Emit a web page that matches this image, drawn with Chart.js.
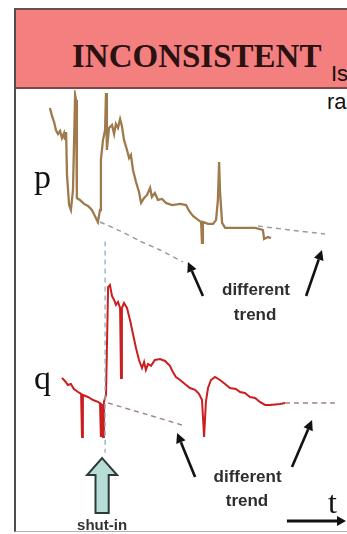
<!DOCTYPE html>
<html>
<head>
<meta charset="utf-8">
<script src="https://cdn.jsdelivr.net/npm/chart.js@4.4.0/dist/chart.umd.min.js"></script>
<style>
  html, body { margin: 0; padding: 0; background: #fff; }
  body { width: 347px; height: 534px; position: relative; overflow: hidden; }
  #frame { position: absolute; left: 14px; top: 8px; width: 340px; height: 523px; border-left: 2px solid #4d4d4d; border-bottom: 1px solid #b0b0b0; }
  #head {
    position: absolute; left: 14px; top: 8px; width: 340px; height: 77px;
    background: #f47f7f; border-top: 2px solid #6a5050; border-left: 2px solid #4d4d4d;
    border-bottom: 2px solid #7a4848;
  }
  #title {
    position: absolute; left: 72px; top: 38px; line-height: 33px;
    font: bold 33px "Liberation Serif", serif; color: #2a1212;
  }
  .side { position: absolute; font: 22px "Liberation Sans", Arial, sans-serif; color: #111; }
  #c { position: absolute; left: 0; top: 0; }
</style>
</head>
<body>
<div id="frame"></div>
<div id="head"></div>
<div id="title">INCONSISTENT</div>
<div class="side" style="left:331px; top:61px;">Is</div>
<div class="side" style="left:327px; top:89px;">ra</div>
<canvas id="c" width="347" height="534"></canvas>
<script>
// pressure record (time, p)
const pTime = [3.3, 4.0, 4.7, 5.3, 6.0, 6.7, 7.3, 8.0, 8.3, 8.7, 9.0, 9.7, 10.3, 11.0, 11.7, 12.0, 12.3, 13.3, 14.7, 16.0,
  17.3, 18.3, 19.3, 20.0, 20.3, 21.0, 21.7, 22.0, 22.3, 23.0, 24.0, 24.7, 25.3, 26.0, 26.7, 27.3, 28.0, 29.0, 29.7, 30.3,
  31.0, 32.0, 33.0, 33.7, 34.7, 35.7, 36.7, 37.3, 38.3, 39.3, 40.7, 42.0, 44.0, 46.7, 48.7, 49.7, 51.0, 52.7, 53.7, 54.0,
  54.3, 56.0, 57.7, 58.7, 59.3, 59.7, 60.0, 60.7, 61.7, 65.0, 68.3, 71.7, 73.3, 74.3, 74.7, 76.0, 77.0];
const pValues = [88.8, 83.8, 80.0, 75.0, 72.5, 74.4, 70.0, 73.1, 68.8, 73.8, 46.9, 28.1, 25.0, 37.5, 96.9, 93.8, 32.5, 31.3, 28.8, 27.5,
  25.0, 21.3, 17.5, 25.0, 56.3, 68.8, 75.0, 98.1, 62.5, 76.3, 78.1, 72.5, 78.8, 76.3, 81.9, 77.5, 68.8, 62.5, 57.5, 59.4,
  50.0, 42.5, 36.3, 29.4, 32.5, 34.4, 38.8, 33.1, 35.6, 31.3, 31.9, 29.4, 28.1, 28.8, 28.1, 24.4, 21.3, 18.8, 17.5, 4.4,
  17.5, 16.3, 16.3, 18.8, 31.3, 55.0, 36.9, 16.9, 13.8, 13.8, 13.8, 13.8, 13.1, 12.5, 6.9, 8.1, 7.5];

// rate record (time, q)
const qTime = [7.3, 8.3, 9.3, 10.3, 11.3, 12.7, 13.7, 14.0, 14.3, 16.0, 17.7, 19.3, 20.0, 20.3, 20.7, 21.0, 21.3, 22.0, 22.7, 23.3,
  24.0, 24.7, 25.3, 26.0, 26.7, 27.0, 27.3, 28.0, 29.0, 30.0, 31.0, 32.0, 33.0, 34.0, 34.7, 35.3, 36.0, 37.0, 38.3, 40.0,
  41.7, 43.3, 44.3, 45.3, 46.7, 48.3, 50.0, 51.7, 53.0, 54.0, 54.7, 55.3, 56.0, 57.0, 58.3, 60.0, 61.7, 63.3, 65.3, 66.7,
  68.3, 70.0, 71.7, 73.3, 75.0, 76.7, 80.0, 81.7];
const qValues = [38.8, 36.9, 34.4, 35.0, 31.9, 30.0, 28.8, 1.9, 28.1, 26.9, 25.0, 23.8, 23.1, 1.9, 22.5, 1.9, 23.8, 28.1, 95.6, 96.9,
  90.0, 87.5, 84.4, 86.3, 82.5, 38.8, 82.5, 85.6, 82.5, 75.0, 66.3, 57.5, 50.0, 45.0, 48.8, 43.8, 47.5, 46.3, 50.0, 50.6,
  49.4, 46.3, 42.5, 39.4, 37.5, 35.0, 32.5, 31.3, 28.8, 25.0, 1.9, 23.8, 32.5, 37.5, 39.4, 37.5, 35.0, 32.5, 31.9, 30.0,
  29.4, 26.9, 26.3, 23.8, 21.9, 21.9, 22.5, 23.1];

// expected trends (dashed)
const pTrendATime = [20.0, 26.7, 33.3, 40.0, 47.7];
const pTrendAValues = [17.5, 11.9, 5.6, 0.0, -7.5];
const pTrendBTime = [72.7, 83.3, 95.0];
const pTrendBValues = [15.0, 12.5, 10.0];
const qTrendATime = [22.7, 35.0, 47.3];
const qTrendAValues = [23.1, 16.3, 9.4];
const qTrendBTime = [81.7, 98.3];
const qTrendBValues = [23.1, 23.1];

// shut-in marker
const shutInTime = [21.7, 21.7];
const shutInValues = [124, -8];

const pts = (t, v) => t.map((x, i) => ({ x, y: v[i] }));

const annotations = {
  arrows: [
    { from: [54.3, 90], to: [49.3, 111.3] },
    { from: [88.7, 90], to: [94.0, 118.8] },
    { from: [51.7, -23.1], to: [45.7, 4.4] },
    { from: [84.0, -16.9], to: [90.7, 12.5] }
  ],
  labels: [
    { text: 'different', at: [72.0, 90.6] },
    { text: 'trend', at: [71.7, 75.0] },
    { text: 'different', at: [69.2, -26.3] },
    { text: 'trend', at: [69.0, -41.3] }
  ]
};

const notes = {
  id: 'notes',
  afterDatasetsDraw(chart) {
    const { ctx, scales: { x, yq } } = chart;
    const X = v => x.getPixelForValue(v), Y = v => yq.getPixelForValue(v);
    ctx.save();

    // black arrows
    ctx.strokeStyle = '#111'; ctx.fillStyle = '#111'; ctx.lineWidth = 2.6;
    annotations.arrows.forEach(a => {
      const x1 = X(a.from[0]), y1 = Y(a.from[1]), x2 = X(a.to[0]), y2 = Y(a.to[1]);
      const ang = Math.atan2(y2 - y1, x2 - x1), hl = 10, hw = 5;
      const bx = x2 - hl * Math.cos(ang), by = y2 - hl * Math.sin(ang);
      ctx.beginPath(); ctx.moveTo(x1, y1); ctx.lineTo(bx, by); ctx.stroke();
      ctx.beginPath();
      ctx.moveTo(x2, y2);
      ctx.lineTo(bx + hw * Math.sin(ang), by - hw * Math.cos(ang));
      ctx.lineTo(bx - hw * Math.sin(ang), by + hw * Math.cos(ang));
      ctx.closePath(); ctx.fill();
    });

    // text labels
    ctx.fillStyle = '#2e2e2e'; ctx.textAlign = 'center'; ctx.textBaseline = 'alphabetic';
    ctx.font = 'bold 17px "Liberation Sans", Arial, sans-serif';
    annotations.labels.forEach(l => ctx.fillText(l.text, X(l.at[0]), Y(l.at[1])));

    ctx.fillStyle = '#111'; ctx.textAlign = 'left';
    ctx.font = '34px "Liberation Serif", serif';
    ctx.fillText('p', X(-2), Y(157.5));
    ctx.fillText('q', X(-2), Y(31.9));
    ctx.font = '32px "Liberation Serif", serif';
    ctx.fillText('t', X(96.0), Y(-45.6));

    // time axis arrow
    ctx.lineWidth = 3; ctx.strokeStyle = '#111';
    const ay = Y(-50.6), ax1 = X(82.3), ax2 = X(102);
    ctx.beginPath(); ctx.moveTo(ax1, ay); ctx.lineTo(ax2 - 7, ay); ctx.stroke();
    ctx.beginPath(); ctx.moveTo(ax2, ay); ctx.lineTo(ax2 - 9, ay - 5); ctx.lineTo(ax2 - 9, ay + 5); ctx.closePath(); ctx.fill();

    // shut-in hollow arrow
    const sx = X(20.7), tipY = Y(-11.3), baseY = Y(-21.9), botY = Y(-45.6);
    const hh = X(5) - X(0), sh = X(2.2) - X(0);
    ctx.beginPath();
    ctx.moveTo(sx, tipY);
    ctx.lineTo(sx + hh, baseY); ctx.lineTo(sx + sh, baseY); ctx.lineTo(sx + sh, botY);
    ctx.lineTo(sx - sh, botY); ctx.lineTo(sx - sh, baseY); ctx.lineTo(sx - hh, baseY);
    ctx.closePath();
    ctx.fillStyle = '#b7ddd7'; ctx.fill();
    ctx.lineWidth = 2; ctx.strokeStyle = '#2e3a3a'; ctx.stroke();
    ctx.fillStyle = '#333'; ctx.textAlign = 'center';
    ctx.font = 'bold 15px "Liberation Sans", Arial, sans-serif';
    ctx.fillText('shut-in', sx, Y(-56.0));
    ctx.restore();
  }
};

const dashed = (data, axis, color) => ({
  data, yAxisID: axis, borderColor: color, borderWidth: 1.4, borderDash: [5, 4],
  pointRadius: 0, fill: false, tension: 0.2
});

new Chart(document.getElementById('c'), {
  type: 'line',
  data: {
    datasets: [
      dashed(pts(shutInTime, shutInValues), 'yq', '#8fb6c4'),
      dashed(pts(pTrendATime, pTrendAValues), 'yp', '#9a9a9a'),
      dashed(pts(pTrendBTime, pTrendBValues), 'yp', '#9a9a9a'),
      dashed(pts(qTrendATime, qTrendAValues), 'yq', '#a08080'),
      dashed(pts(qTrendBTime, qTrendBValues), 'yq', '#a08080'),
      { label: 'p', data: pts(pTime, pValues), yAxisID: 'yp', borderColor: '#9e7a4c', borderWidth: 2.3, pointRadius: 0, tension: 0 },
      { label: 'q', data: pts(qTime, qValues), yAxisID: 'yq', borderColor: '#cc1e1e', borderWidth: 2, pointRadius: 0, tension: 0 }
    ]
  },
  options: {
    responsive: false,
    animation: false,
    devicePixelRatio: 1,
    layout: { padding: { left: 40, right: 7, top: 90, bottom: 4 } },
    plugins: { legend: { display: false }, tooltip: { enabled: false } },
    scales: {
      x: { type: 'linear', min: 0, max: 100, display: false },
      yp: { type: 'linear', min: -175, max: 100, display: false },
      yq: { type: 'linear', min: -56.25, max: 218.75, display: false }
    }
  },
  plugins: [notes]
});
</script>
</body>
</html>
